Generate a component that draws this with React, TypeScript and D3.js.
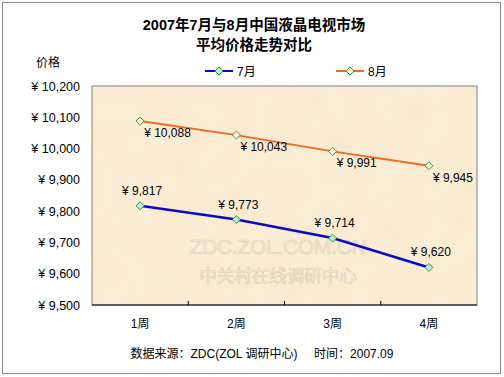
import React from "react";
import * as d3 from "d3";

const weeks = ["1周", "2周", "3周", "4周"];
const july = [9817, 9773, 9714, 9620];
const august = [10088, 10043, 9991, 9945];
const yTicks = [9500, 9600, 9700, 9800, 9900, 10000, 10100, 10200];
const titleLines = ["2007年7月与8月中国液晶电视市场", "平均价格走势对比"];
const footer = "数据来源：ZDC(ZOL 调研中心)     时间：2007.09";

const FONT = "'Liberation Sans', Arial, 'Noto Sans CJK SC', sans-serif";

export default function App() {
  const W = 504, H = 377;
  const left = 92, right = 477, top = 86, bottom = 305;
  const x = d3.scaleBand<string>().domain(weeks).range([left, right]).padding(0);
  const y = d3.scaleLinear().domain([9500, 10200]).range([bottom, top]);
  const cx = (w: string) => (x(w) as number) + x.bandwidth() / 2;
  const line = d3.line<number>().x((_, i) => cx(weeks[i])).y((d) => y(d));
  const fmt = (v: number) => "¥ " + d3.format(",")(v);

  const JULY = "#0a0ac8";
  const AUG = "#f06a1e";
  const MSTROKE = "#2f9a2f";

  return (
    <svg width={W} height={H} style={{ display: "block", position: "absolute", left: 0, top: 0 }} fontFamily={FONT}>
      <defs>
        <filter id="tex" x="0" y="0" width="100%" height="100%">
          <feTurbulence type="fractalNoise" baseFrequency="0.04" numOctaves="3" seed="3" result="n" />
          <feColorMatrix in="n" type="matrix" values="0 0 0 0 1  0 0 0 0 1  0 0 0 0 1  0 0 0 0.25 0" result="w" />
          <feComposite in="w" in2="SourceGraphic" operator="over" />
        </filter>
      </defs>
      <rect x={0} y={0} width={W} height={H} fill="#ffffff" />
      <rect x={2.5} y={2.5} width={498} height={371} fill="#ffffff" stroke="#8a8a8a" strokeWidth={1} />
      {titleLines.map((t, i) => (
        <text key={i} x={254} y={30 + i * 20} textAnchor="middle" fontSize={14.5} fontWeight="bold" fill="#000">{t}</text>
      ))}
      <text x={36} y={67} fontSize={12} fill="#000">价格</text>
      {/* legend */}
      <g>
        <line x1={205} x2={233} y1={71} y2={71} stroke={JULY} strokeWidth={2} />
        <path d={`M219,67 L223,71 L219,75 L215,71 Z`} fill="#b8f0d8" stroke={MSTROKE} strokeWidth={1} />
        <text x={237} y={75.5} fontSize={12} fill="#000">7月</text>
        <line x1={336} x2={364} y1={71} y2={71} stroke={AUG} strokeWidth={2} />
        <path d={`M350,67 L354,71 L350,75 L346,71 Z`} fill="#fff6dc" stroke={MSTROKE} strokeWidth={1} />
        <text x={368} y={75.5} fontSize={12} fill="#000">8月</text>
      </g>
      {/* plot area */}
      <rect x={left} y={top} width={right - left} height={bottom - top} fill="#f9e9cb" filter="url(#tex)" />
      <rect x={left} y={top} width={right - left} height={bottom - top} fill="none" stroke="#808080" strokeWidth={1} />
      {/* watermark */}
      <text x={278} y={254} textAnchor="middle" fontSize={21} fill="#f6ead6" stroke="#ddd2bf" strokeWidth={0.7} fontFamily="'Liberation Sans', Arial, sans-serif" letterSpacing={-0.3}>ZDC.ZOL.COM.CN</text>
      <text x={278} y={282} textAnchor="middle" fontSize={17.5} fill="#f6ead6" stroke="#ddd2bf" strokeWidth={0.7} fontFamily="'Noto Sans CJK SC', sans-serif">中关村在线调研中心</text>
      {/* axes */}
      <line x1={left} x2={right} y1={bottom} y2={bottom} stroke="#000" strokeWidth={1.2} />
      {weeks.slice(1).map((w) => (
        <line key={w} x1={x(w) as number} x2={x(w) as number} y1={bottom} y2={bottom - 4} stroke="#000" strokeWidth={1} />
      ))}
      {yTicks.map((t) => (
        <text key={t} x={80} y={y(t) + 4.5} textAnchor="end" fontSize={12.5} fill="#000">{fmt(t)}</text>
      ))}
      {weeks.map((w) => (
        <text key={w} x={cx(w)} y={328} textAnchor="middle" fontSize={12} fill="#000">{w}</text>
      ))}
      {/* lines */}
      <path d={line(august) || ""} fill="none" stroke={AUG} strokeWidth={2} />
      <path d={line(july) || ""} fill="none" stroke={JULY} strokeWidth={2.5} />
      {august.map((v, i) => (
        <g key={"a" + i}>
          <path d={`M${cx(weeks[i])},${y(v) - 4} l4,4 l-4,4 l-4,-4 Z`} fill="#fff6dc" stroke={MSTROKE} strokeWidth={1} />
          <text x={cx(weeks[i]) + 4} y={y(v) + 16} fontSize={12} fill="#000">{fmt(v)}</text>
        </g>
      ))}
      {july.map((v, i) => (
        <g key={"j" + i}>
          <path d={`M${cx(weeks[i])},${y(v) - 4} l4,4 l-4,4 l-4,-4 Z`} fill="#b8f0d8" stroke={MSTROKE} strokeWidth={1} />
          <text x={cx(weeks[i]) + 2} y={y(v) - 11} textAnchor="middle" fontSize={12} fill="#000">{fmt(v)}</text>
        </g>
      ))}
      <text x={262} y={358} textAnchor="middle" fontSize={12} fill="#000" style={{ whiteSpace: "pre" }}>{footer}</text>
    </svg>
  );
}
